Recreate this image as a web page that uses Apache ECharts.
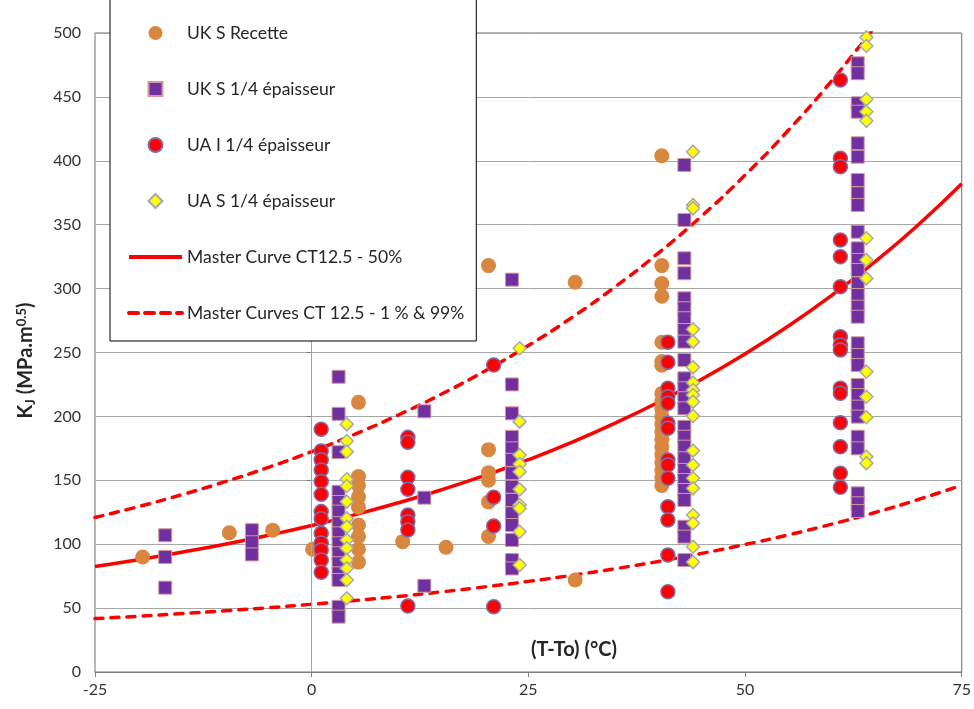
<!DOCTYPE html>
<html><head><meta charset="utf-8">
<script src="https://cdn.jsdelivr.net/npm/echarts@6/dist/echarts.min.js"></script>
<style>html,body{margin:0;padding:0;background:#fff}#c{width:974px;height:709px}</style>
</head><body><div id="c"></div><script>
// Master curves at x steps of 5
const curveX = [-25,-20,-15,-10,-5,0,5,10,15,20,25,30,35,40,45,50,55,60,65,70,75];
const median50 = [82.6,87.9,93.7,100.0,107.0,114.6,123.1,132.4,142.6,153.8,166.1,179.7,194.7,211.1,229.0,248.9,270.7,294.7,321.0,350.0,382.0];
const lower1 = [41.8,43.6,45.7,47.9,50.3,53.0,55.9,59.1,62.7,66.6,70.9,75.6,80.8,86.5,92.8,99.7,107.3,115.7,124.8,135.0,146.1];
const upper99 = [120.9,129.4,138.7,148.9,160.1,172.5,186.1,201.1,217.5,235.6,255.4,277.3,301.3,327.8,356.8,388.8,423.9,462.6,505.1];

const ukRecette = [[-19.5,90],[-9.5,109],[-4.5,111],[0.1,96],
 [5.4,211],[5.4,153],[5.4,146],[5.4,137],[5.4,129],[5.4,115],[5.4,106],[5.4,96],[5.4,86],
 [10.5,102],[15.5,97.6],
 [20.4,318],[20.4,174],[20.4,156],[20.4,150],[20.4,133],[20.4,106],
 [30.4,305],[30.4,72],
 [40.4,404],[40.4,318],[40.4,304],[40.4,294],[40.4,258],[40.4,243],[40.4,240],[40.4,218],[40.4,212],[40.4,206],[40.4,200],[40.4,194],[40.4,188],[40.4,182],[40.4,176],[40.4,170],[40.4,164],[40.4,158],[40.4,152],[40.4,146]];

const ukQuart = [[-16.9,107],[-16.9,90],[-16.9,66],[-6.9,111],[-6.9,101.5],[-6.9,92],
 [3.1,231],[3.1,202],[3.1,172],[3.1,141],[3.1,133],[3.1,125.5],[3.1,116.4],[3.1,108.5],[3.1,100.7],[3.1,92.9],[3.1,85.1],[3.1,77.2],[3.1,72],[3.1,51],[3.1,43.3],
 [13,204],[13,136.4],[13,67.5],
 [23.1,307],[23.1,225],[23.1,202.4],[23.1,184],[23.1,175],[23.1,166],[23.1,155.5],[23.1,145],[23.1,134.6],[23.1,124.2],[23.1,115],[23.1,103.3],[23.1,87.6],[23.1,81],
 [43,396.7],[43,353.7],[43,323.7],[43,312],[43,292.4],[43,284.6],[43,276.8],[43,267.6],[43,258.5],[43,244.1],[43,229.8],[43,222],[43,214.2],[43,206.3],[43,191.9],[43,184.1],[43,176.3],[43,167.2],[43,158.1],[43,150.2],[43,142.4],[43,134.6],[43,113.7],[43,105.9],[43,87.6],
 [63,476.3],[63,468.5],[63,445],[63,438.4],[63,413.7],[63,403.2],[63,385],[63,374.6],[63,365.4],[63,344.5],[63,331.5],[63,322.4],[63,314.6],[63,304.1],[63,295],[63,285.8],[63,278],[63,257.2],[63,248],[63,240.2],[63,224.6],[63,216.7],[63,207.6],[63,199.8],[63,184.1],[63,175],[63,139.8],[63,132],[63,126]];

const uaIQuart = [[1.1,190],[1.1,173],[1.1,166],[1.1,158],[1.1,149],[1.1,139],[1.1,125.5],[1.1,120],[1.1,108.5],[1.1,101],[1.1,95.5],[1.1,87.6],[1.1,78],
 [11.1,183.6],[11.1,179.7],[11.1,152.3],[11.1,142.9],[11.1,122.8],[11.1,117.6],[11.1,111.1],[11.1,51.6],
 [21,240.2],[21,136.7],[21,114.2],[21,51.1],
 [41.1,258],[41.1,242.3],[41.1,222],[41.1,215.4],[41.1,210.2],[41.1,194.6],[41.1,190.7],[41.1,165.9],[41.1,162],[41.1,151.6],[41.1,129.3],[41.1,118.9],[41.1,91.5],[41.1,62.8],
 [61,463.2],[61,402],[61,395.4],[61,338],[61,325],[61,301.5],[61,262.4],[61,255.9],[61,252],[61,222],[61,218.1],[61,195.1],[61,176.3],[61,155.5],[61,144.5]];

const uaSQuart = [[4.05,193.8],[4.05,180.8],[4.05,172.4],[4.05,150.8],[4.05,145.5],[4.05,133.3],[4.05,120.2],[4.05,113.7],[4.05,103.3],[4.05,96.8],[4.05,87.6],[4.05,81.1],[4.05,72],[4.05,57.7],
 [24,253.3],[24,195.9],[24,169.8],[24,162.8],[24,156.7],[24,142.9],[24,130.7],[24,128.1],[24,109.8],[24,83.7],
 [44,407.1],[44,365.4],[44,362.8],[44,268.2],[44,258.5],[44,238.4],[44,226.4],[44,220.7],[44,216.7],[44,211.5],[44,200.3],[44,173.2],[44,162],[44,151.6],[44,143.7],[44,122.8],[44,116.4],[44,98],[44,86],
 [64,496.6],[64,489.8],[64,448.1],[64,438.4],[64,431.4],[64,339.4],[64,322.4],[64,308],[64,235],[64,215.4],[64,199.3],[64,168.5],[64,163.3]];

const names = ['UK S Recette','UK S 1/4 épaisseur','UA I 1/4 épaisseur','UA S 1/4 épaisseur','Master Curve CT12.5 - 50%','Master Curves CT 12.5 - 1 % & 99%'];

const FONT = 'Lato, "Open Sans", sans-serif';
const chart = echarts.init(document.getElementById('c'));
const pair = (xs, ys) => ys.map((y,i)=>[xs[i], y]);
chart.setOption({
  animation:false,
  textStyle:{fontFamily:FONT},
  grid:{left:95,right:11,top:33,bottom:37,show:true,borderColor:'#6f6f6f',borderWidth:1},
  legend:{
    orient:'vertical', left:110, top:-1,
    data:[
      {name:names[0]},
      {name:names[1], icon:'path://M0,0L10,0L10,10L0,10Z'},
      {name:names[2]},
      {name:names[3], icon:'path://M5,0L10,5L5,10L0,5Z'},
      {name:names[4], itemStyle:{opacity:0}, lineStyle:{width:4}},
      {name:names[5], itemStyle:{opacity:0}, lineStyle:{width:4, type:[9,7]}}
    ],
    symbolKeepAspect:true,
    backgroundColor:'#fff', borderColor:'#000', borderWidth:1,
    padding:[25,12,19,17], itemGap:38, itemWidth:53, itemHeight:14,
    textStyle:{fontSize:17.5, lineHeight:18, color:'#262626', fontFamily:FONT}, z:10
  },
  xAxis:{type:'value',min:-25,max:75,interval:25,
    axisLine:{show:true,onZero:false,lineStyle:{color:'#7f7f7f'}},
    axisTick:{show:true,length:5,lineStyle:{color:'#7f7f7f'}},
    splitLine:{show:false},
    axisLabel:{fontSize:16,color:'#333',margin:10,fontFamily:FONT}},
  yAxis:{type:'value',min:0,max:500,interval:50,
    axisLine:{show:true,lineStyle:{color:'#7f7f7f'}},
    axisTick:{show:true,length:5,lineStyle:{color:'#7f7f7f'}},
    splitLine:{show:true,lineStyle:{color:'#a6a6a6',width:1}},
    axisLabel:{fontSize:16,color:'#333',margin:14,fontFamily:FONT},
    name:'{k|K}{s|J}{k| (MPa.m}{p|0.5}{k|)}', nameLocation:'middle', nameGap:58, nameRotate:90,
    nameTextStyle:{padding:[0,16,0,0],rich:{
      k:{fontSize:20,fontWeight:'bold',color:'#262626',fontFamily:FONT},
      s:{fontSize:13,fontWeight:'bold',color:'#262626',fontFamily:FONT,verticalAlign:'bottom',padding:[9,0,0,0]},
      p:{fontSize:13,fontWeight:'bold',color:'#262626',fontFamily:FONT,verticalAlign:'top',padding:[0,0,9,0]}
    }}},
  graphic:[{type:'text',x:574,y:650,z:5,style:{text:'(T-To) (°C)',align:'center',verticalAlign:'middle',font:'bold 20px '+FONT,fill:'#262626'}}],
  series:[
    {name:names[0],type:'scatter',z:3,symbol:'circle',symbolSize:15,data:ukRecette,
     itemStyle:{color:'#d9873f',opacity:1}},
    {name:names[1],type:'scatter',z:3,symbol:'rect',symbolSize:13,data:ukQuart,
     itemStyle:{color:'#7030a0',borderColor:'#d49a9a',borderWidth:1,opacity:1}},
    {name:names[2],type:'scatter',z:3,symbol:'circle',symbolSize:14,data:uaIQuart,
     itemStyle:{color:'#ff0000',borderColor:'#7e6ca8',borderWidth:1.5,opacity:1}},
    {name:names[3],type:'scatter',z:3,symbol:'diamond',symbolSize:13,data:uaSQuart,
     itemStyle:{color:'#ffff00',borderColor:'#a6a6b6',borderWidth:1.5,opacity:1}},
    {name:names[4],type:'line',z:2,symbol:'none',smooth:true,data:pair(curveX,median50),
     lineStyle:{color:'#ff0000',width:3.5},itemStyle:{color:'#ff0000'},
     markLine:{silent:true,symbol:'none',label:{show:false},animation:false,
       lineStyle:{color:'#a6a6a6',type:'solid',width:1},data:[{xAxis:0}]}},
    {name:names[5],type:'line',z:2,symbol:'none',smooth:true,data:pair(curveX,lower1),
     lineStyle:{color:'#ff0000',width:3.5,type:[8,8],cap:'round'},itemStyle:{color:'#ff0000'}},
    {name:names[5],type:'line',z:2,symbol:'none',smooth:true,data:pair(curveX,upper99),
     lineStyle:{color:'#ff0000',width:3.5,type:[8,8],cap:'round'},itemStyle:{color:'#ff0000'}}
  ]
});
</script></body></html>
